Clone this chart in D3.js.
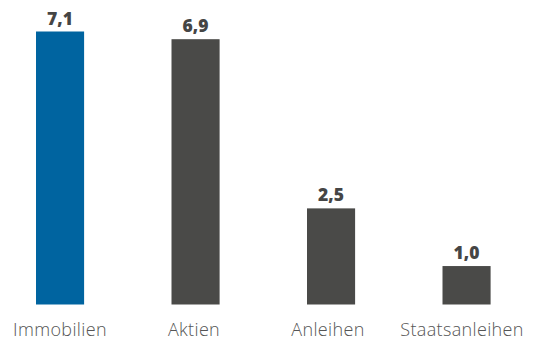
<!DOCTYPE html>
<html>
<head>
<meta charset="utf-8">
<script src="https://cdn.jsdelivr.net/npm/d3@7"></script>
<style>
  html, body { margin: 0; padding: 0; background: #fff; }
  svg { display: block; }
</style>
</head>
<body>
<svg id="chart" width="534" height="339"></svg>
<script>
// Anlageklassen und Werte
const categories = ["Immobilien", "Aktien", "Anleihen", "Staatsanleihen"];
const values = [7.1, 6.9, 2.5, 1.0];
const valueLabels = ["7,1", "6,9", "2,5", "1,0"];
const highlight = "Immobilien";

const baselineY = 304.5;
const topY = 31.5;

const svg = d3.select("#chart");

const x = d3.scaleBand()
  .domain(categories)
  .range([-7.7, 534.3])
  .paddingInner(0.645)
  .paddingOuter(0.3225);

// category labels sit on a slightly narrower spacing than the bars
const xLabel = d3.scalePoint()
  .domain(categories)
  .range([60, 462]);

const y = d3.scaleLinear()
  .domain([0, 7.1])
  .range([baselineY, topY]);

const data = categories.map((c, i) => ({ c, v: values[i], label: valueLabels[i] }));

svg.selectAll("rect.bar")
  .data(data)
  .join("rect")
  .attr("class", "bar")
  .attr("x", d => x(d.c))
  .attr("width", x.bandwidth())
  .attr("y", d => y(d.v))
  .attr("height", d => y(0) - y(d.v))
  .attr("fill", d => d.c === highlight ? "#0064a0" : "#4a4a48");

svg.selectAll("text.val")
  .data(data)
  .join("text")
  .attr("class", "val")
  .attr("x", d => x(d.c) + x.bandwidth() / 2)
  .attr("y", d => y(d.v) - 7)
  .attr("text-anchor", "middle")
  .attr("font-family", "'Open Sans', sans-serif")
  .attr("font-weight", 800)
  .attr("font-size", 17.5)
  .attr("fill", "#454545")
  .text(d => d.label);

svg.selectAll("text.cat")
  .data(data)
  .join("text")
  .attr("class", "cat")
  .attr("x", d => xLabel(d.c))
  .attr("y", 335.5)
  .attr("text-anchor", "middle")
  .attr("font-family", "'Open Sans', sans-serif")
  .attr("font-weight", 300)
  .attr("font-size", 18)
  .attr("letter-spacing", 0.35)
  .attr("fill", "#555")
  .text(d => d.c);
</script>
</body>
</html>
